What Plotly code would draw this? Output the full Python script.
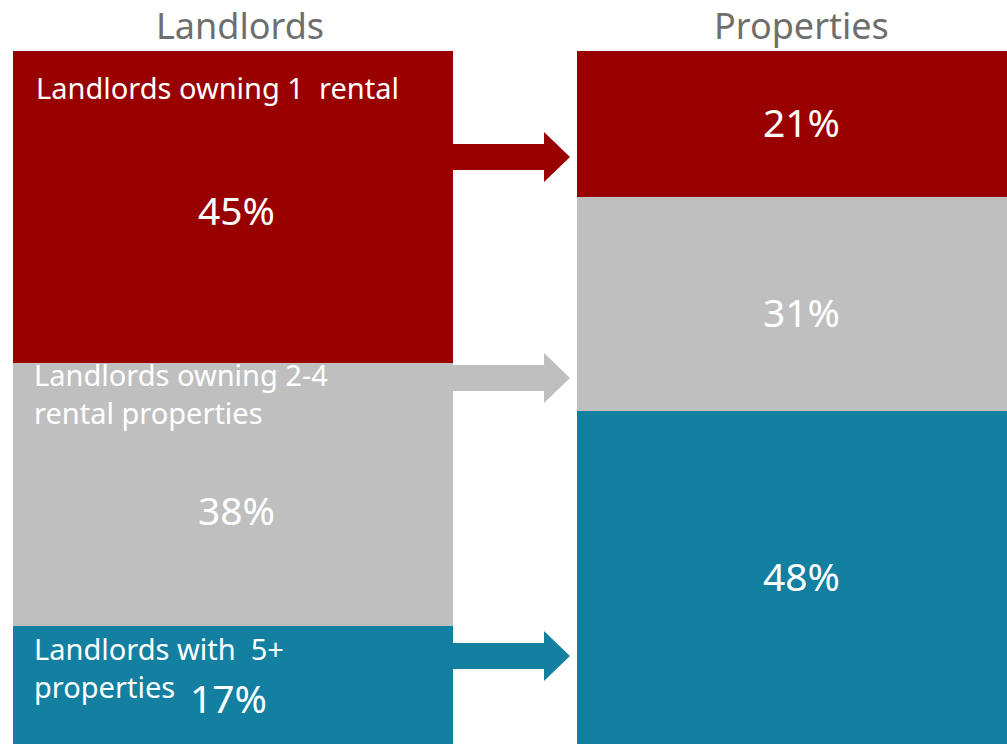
import plotly.graph_objects as go

# Shares of landlords and of the rental properties they own
columns = ["Landlords", "Properties"]
groups = ["Landlords with  5+<br>properties",
          "Landlords owning 2-4<br>rental properties",
          "Landlords owning 1  rental"]
landlord_share = [17, 38, 45]
property_share = [48, 31, 21]
colors = ["#1380a1", "#bfbfbf", "#990000"]

W, H = 1007, 744
TOP = 51
FONT = "Noto Sans"

fig = go.Figure()
for i in range(len(groups)):
    fig.add_trace(go.Bar(
        x=columns,
        y=[landlord_share[i], property_share[i]],
        marker=dict(color=colors[i], line=dict(width=0)),
        width=0.78,
        hoverinfo="skip",
        showlegend=False,
    ))

# Percentage labels in the middle of each segment
label_shift = {0: [-12, 2], 1: [-15, -8], 2: [-3, 2]}
for ci, shares in enumerate([landlord_share, property_share]):
    base = 0
    for i, v in enumerate(shares):
        fig.add_annotation(
            x=columns[ci], y=base + v / 2, xref="x", yref="y",
            text=f"{v}%", showarrow=False,
            xshift=-4 if (ci == 0 and i == 0) else 4,
            yshift=label_shift[i][ci],
            font=dict(family=FONT, size=39, color="white"),
        )
        base += v

# Group names inside the landlord column
name_pos = [(-0.373, -1), (-0.373, 10), (-0.368, -15)]
base = 0
for i, v in enumerate(landlord_share):
    top = base + v
    nx, ny = name_pos[i]
    fig.add_annotation(
        x=nx, y=top, xref="x", yref="y", xanchor="left", yanchor="top",
        xshift=9, yshift=ny, text=groups[i], align="left", showarrow=False,
        font=dict(family=FONT, size=29, color="white"),
    )
    base = top

# Column headings, centred in the white band above the bars
for ci, name in enumerate(columns):
    fig.add_annotation(
        x=name, y=1 + (TOP - 25) / (H - TOP), xref="x", yref="paper",
        yanchor="middle", xshift=7 if ci == 0 else 4, text=name,
        showarrow=False,
        font=dict(family=FONT, size=36, color="#6e6e6e"),
    )

# Block arrows linking the columns (pixel layout converted to paper units)
def px(x):
    return x / W

def py(y):
    return (H - y) / (H - TOP)

arrow_rows = [656, 378, 157]
x0, xh, xt = 453, 544, 570
shaft, head = 13, 25
for i, yc in enumerate(arrow_rows):
    pts = [(x0, yc - shaft), (xh, yc - shaft), (xh, yc - head), (xt, yc),
           (xh, yc + head), (xh, yc + shaft), (x0, yc + shaft)]
    path = "M " + " L ".join(f"{px(a):.5f},{py(b):.5f}" for a, b in pts) + " Z"
    fig.add_shape(type="path", path=path, xref="paper", yref="paper",
                  fillcolor=colors[i], line=dict(width=0), layer="above")

fig.update_layout(
    width=W, height=H,
    margin=dict(l=0, r=0, t=TOP, b=0),
    barmode="stack", bargap=0,
    paper_bgcolor="white", plot_bgcolor="white",
    xaxis=dict(range=[-0.413, 1.372], visible=False, fixedrange=True),
    yaxis=dict(range=[0, 100], visible=False, fixedrange=True),
)

fig.write_html("out.html", config={"displayModeBar": False})
